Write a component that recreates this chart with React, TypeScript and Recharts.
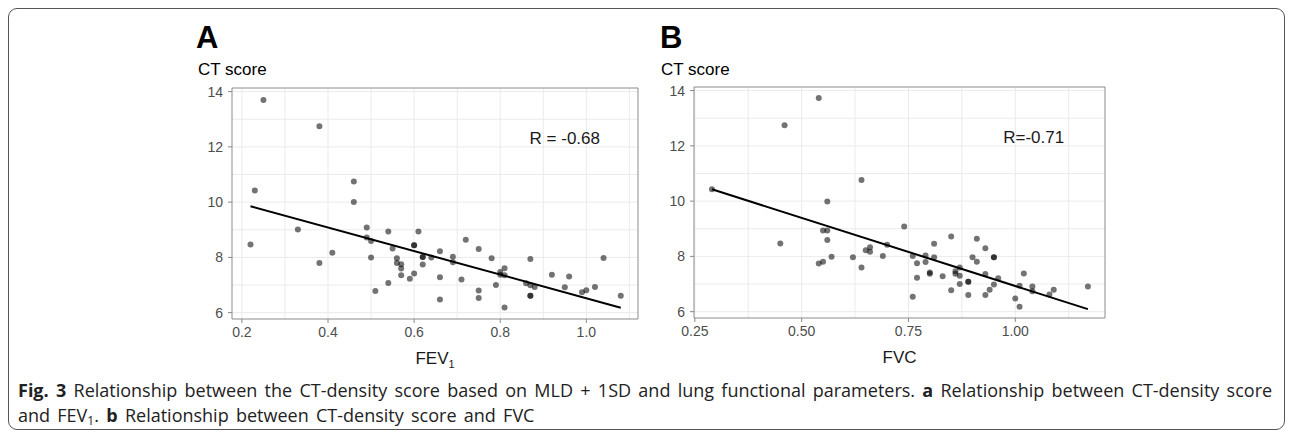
import React from "react";
import {
  CartesianGrid,
  ReferenceArea,
  ReferenceLine,
  Scatter,
  ScatterChart,
  XAxis,
  YAxis,
  Label,
} from "recharts";

const FONT = '"Liberation Sans", Arial, sans-serif';

// panel A: FEV1 vs CT score
const FEV1 = [
  0.25, 0.38, 0.23, 0.22, 0.46, 0.46, 0.33, 0.49, 0.49, 0.5, 0.54, 0.55, 0.41,
  0.6, 0.6, 0.61, 0.5, 0.56, 0.38, 0.57, 0.72, 0.75, 0.66, 0.62, 0.62, 0.64,
  0.69, 0.56, 0.62, 0.69, 0.78, 0.87, 1.04, 0.81, 0.57, 0.51, 0.54, 0.57, 0.59,
  0.6, 0.66, 0.66, 0.71, 0.75, 0.75, 0.79, 0.8, 0.8, 0.81, 0.81, 0.86, 0.87,
  0.87, 0.87, 0.88, 0.92, 0.95, 0.96, 0.99, 1.0, 1.02, 1.08,
];
const CT_A = [
  13.7, 12.75, 10.42, 8.47, 10.75, 10.0, 9.01, 9.08, 8.72, 8.59, 8.94, 8.32,
  8.17, 8.44, 8.44, 8.94, 8.0, 7.97, 7.8, 7.75, 8.64, 8.3, 8.22, 8.01, 8.01, 8.0,
  8.02, 7.8, 7.74, 7.82, 7.97, 7.94, 7.98, 7.61, 7.6, 6.78, 7.07, 7.35, 7.23,
  7.42, 7.28, 6.48, 7.2, 6.8, 6.53, 7.0, 7.37, 7.47, 7.35, 6.19, 7.06, 6.99,
  6.61, 6.61, 6.93, 7.37, 6.92, 7.31, 6.74, 6.81, 6.93, 6.61,
];
const FIT_A_X = [0.22, 1.08];
const FIT_A_Y = [9.85, 6.18];

// panel B: FVC vs CT score
const FVC = [
  0.54, 0.46, 0.29, 0.45, 0.64, 0.56, 0.55, 0.56, 0.56, 0.65, 0.66, 0.66, 0.57,
  0.62, 0.54, 0.55, 0.64, 0.74, 0.69, 0.7, 0.76, 0.77, 0.79, 0.79, 0.81, 0.81,
  0.85, 0.91, 0.93, 0.9, 0.91, 0.95, 0.95, 0.76, 0.77, 0.8, 0.8, 0.83, 0.85,
  0.86, 0.86, 0.87, 0.87, 0.87, 0.89, 0.89, 0.89, 0.93, 0.93, 0.94, 0.95, 0.96,
  1.0, 1.01, 1.01, 1.02, 1.04, 1.04, 1.08, 1.09, 1.17,
];
const CT_B = [
  13.73, 12.75, 10.43, 8.47, 10.76, 9.99, 8.94, 8.94, 8.59, 8.22, 8.33, 8.17,
  7.99, 7.97, 7.74, 7.81, 7.6, 9.08, 8.01, 8.42, 8.01, 7.75, 8.03, 7.8, 8.46,
  7.97, 8.72, 8.64, 8.29, 7.97, 7.81, 7.97, 7.97, 6.54, 7.23, 7.42, 7.37, 7.28,
  6.77, 7.46, 7.37, 7.6, 7.3, 7.0, 7.08, 7.08, 6.6, 7.36, 6.6, 6.79, 6.98, 7.21,
  6.48, 6.18, 6.94, 7.38, 6.91, 6.74, 6.62, 6.79, 6.91,
];
const FIT_B_X = [0.29, 1.17];
const FIT_B_Y = [10.43, 6.09];

const Y_TICKS = [6, 8, 10, 12, 14];
const Y_GRID = [6, 7, 8, 9, 10, 11, 12, 13, 14];
const X_TICKS_A = [0.2, 0.4, 0.6, 0.8, 1.0];
const X_GRID_A = [0.2, 0.3, 0.4, 0.5, 0.6, 0.7, 0.8, 0.9, 1.0, 1.1];
const X_TICKS_B = [0.25, 0.5, 0.75, 1.0];
const X_GRID_B = [0.25, 0.375, 0.5, 0.625, 0.75, 0.875, 1.0, 1.125];

const Y_DOMAIN = [5.77, 14.13];
const X_DOMAIN_A = [0.177, 1.12];
const X_DOMAIN_B = [0.248, 1.21];

const R_A = { x: 0.95, y: 12.31, text: "R = -0.68" };
const R_B = { x: 1.043, y: 12.32, text: "R=-0.71" };

const dot = (p: any) => (
  <circle cx={p.cx} cy={p.cy} r={3} fill="#000" fillOpacity={0.55} />
);

function Panel(props: any) {
  const {
    xs, ys, fitX, fitY, xDomain, xTicks, xGrid, fmt, main, sub, note,
    left, top, width, height,
  } = props;
  const data = xs.map((x: number, i: number) => ({ x, y: ys[i] }));
  const noteShape = (p: any) => (
    <text
      x={p.cx}
      y={p.cy}
      textAnchor="middle"
      dominantBaseline="central"
      fontSize={17}
      fontFamily={FONT}
      fill="#1a1a1a"
    >
      {note.text}
    </text>
  );
  const title = (lp: any) => {
    const vb = lp.viewBox || { x: 0, y: 0, width: 0 };
    return (
      <text
        x={vb.x + vb.width / 2}
        y={vb.y + 45}
        textAnchor="middle"
        fontSize={17}
        fontFamily={FONT}
        fill="#1a1a1a"
      >
        {main}
        {sub ? (
          <tspan fontSize={11} dy={4}>
            {sub}
          </tspan>
        ) : null}
      </text>
    );
  };
  return (
    <div style={{ position: "absolute", left, top }}>
      <ScatterChart
        width={width}
        height={height}
        margin={{ top: 10, right: 10, bottom: 0, left: 0 }}
      >
        <CartesianGrid
          stroke="#ebebeb"
          horizontalValues={Y_GRID}
          verticalValues={xGrid}
        />
        <XAxis
          type="number"
          dataKey="x"
          domain={xDomain}
          ticks={xTicks}
          allowDataOverflow
          axisLine={false}
          tickLine={{ stroke: "#888" }}
          tickSize={4}
          tickMargin={4}
          height={69}
          tickFormatter={fmt}
          tick={{ fill: "#4d4d4d", fontSize: 14, fontFamily: FONT }}
        >
          <Label content={title} />
        </XAxis>
        <YAxis
          type="number"
          dataKey="y"
          domain={Y_DOMAIN}
          ticks={Y_TICKS}
          allowDataOverflow
          axisLine={false}
          tickLine={{ stroke: "#888" }}
          tickSize={4}
          tickMargin={5}
          width={42}
          tick={{ fill: "#4d4d4d", fontSize: 14, fontFamily: FONT }}
        />
        <ReferenceArea
          x1={xDomain[0]}
          x2={xDomain[1]}
          y1={Y_DOMAIN[0]}
          y2={Y_DOMAIN[1]}
          fill="none"
          stroke="#8c8c8c"
          strokeWidth={1}
          fillOpacity={0}
        />
        <Scatter data={data} shape={dot} isAnimationActive={false} />
        <ReferenceLine
          segment={[
            { x: fitX[0], y: fitY[0] },
            { x: fitX[1], y: fitY[1] },
          ]}
          stroke="#000"
          strokeWidth={2}
        />
        <Scatter
          data={[{ x: note.x, y: note.y }]}
          shape={noteShape}
          isAnimationActive={false}
        />
      </ScatterChart>
    </div>
  );
}

const headStyle = (left: number, top: number, size: number, bold: boolean) => ({
  position: "absolute" as const,
  left,
  top,
  fontFamily: FONT,
  fontSize: size,
  fontWeight: bold ? 700 : 400,
  color: "#000",
  lineHeight: 1,
  whiteSpace: "nowrap" as const,
});

export default function App() {
  return (
    <div
      style={{
        position: "fixed",
        left: 0,
        top: 0,
        width: 1292,
        height: 434,
        background: "#fff",
        overflow: "hidden",
      }}
    >
      <div
        style={{
          position: "absolute",
          left: 8,
          top: 8,
          width: 1275,
          height: 420,
          border: "1px solid #555",
          borderRadius: 9,
        }}
      />
      <div style={headStyle(196, 22, 31, true)}>A</div>
      <div style={headStyle(198, 61, 17, false)}>CT score</div>
      <div style={headStyle(660, 22, 31, true)}>B</div>
      <div style={headStyle(661, 61, 17, false)}>CT score</div>

      <Panel
        xs={FEV1}
        ys={CT_A}
        fitX={FIT_A_X}
        fitY={FIT_A_Y}
        xDomain={X_DOMAIN_A}
        xTicks={X_TICKS_A}
        xGrid={X_GRID_A}
        fmt={(v: number) => v.toFixed(1)}
        main="FEV"
        sub="1"
        note={R_A}
        left={190}
        top={78}
        width={458}
        height={310}
      />
      <Panel
        xs={FVC}
        ys={CT_B}
        fitX={FIT_B_X}
        fitY={FIT_B_Y}
        xDomain={X_DOMAIN_B}
        xTicks={X_TICKS_B}
        xGrid={X_GRID_B}
        fmt={(v: number) => v.toFixed(2)}
        main="FVC"
        note={R_B}
        left={652}
        top={77}
        width={463}
        height={310}
      />

      <div
        style={{
          position: "absolute",
          left: 18,
          top: 378,
          fontFamily: '"Open Sans", sans-serif',
          fontSize: 18,
          wordSpacing: "2.6px",
          lineHeight: "24.5px",
          color: "#222",
          whiteSpace: "nowrap",
        }}
      >
        <div>
          <b>Fig. 3</b> Relationship between the CT-density score based on MLD
          + 1SD and lung functional parameters. <b>a</b> Relationship between
          CT-density score
        </div>
        <div>
          and FEV<span style={{ fontSize: 12, verticalAlign: "-3px" }}>1</span>.{" "}
          <b>b</b> Relationship between CT-density score and FVC
        </div>
      </div>
    </div>
  );
}
